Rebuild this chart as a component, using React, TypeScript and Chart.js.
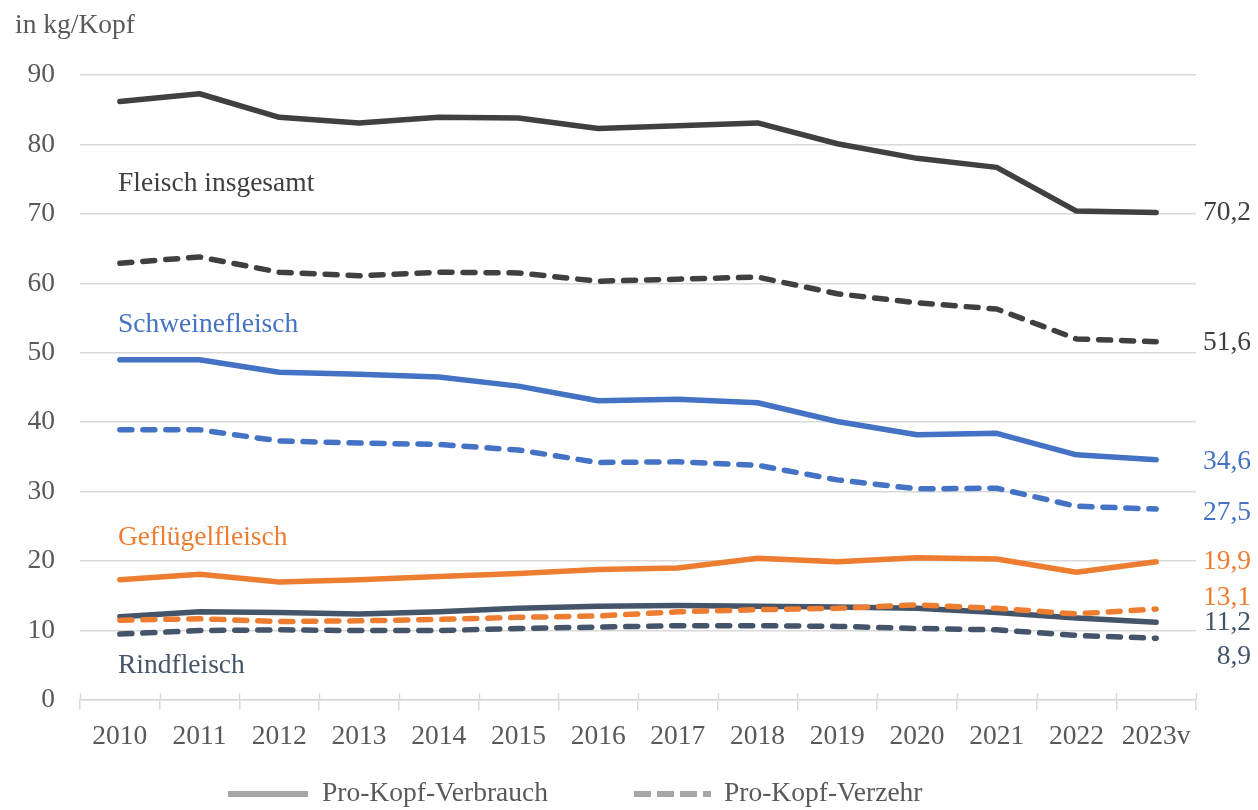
import React, { useEffect, useRef } from "react";
import { Chart, registerables } from "chart.js";

Chart.register(...registerables);

const years = ["2010", "2011", "2012", "2013", "2014", "2015", "2016", "2017", "2018", "2019", "2020", "2021", "2022", "2023v"];

const fleischVerbrauch = [86.2, 87.3, 83.9, 83.1, 83.9, 83.8, 82.3, 82.7, 83.1, 80.1, 78.0, 76.7, 70.4, 70.2];
const fleischVerzehr = [62.9, 63.8, 61.6, 61.1, 61.6, 61.5, 60.3, 60.6, 60.9, 58.5, 57.2, 56.3, 52.0, 51.6];
const schweinVerbrauch = [49.0, 49.0, 47.2, 46.9, 46.5, 45.2, 43.1, 43.3, 42.8, 40.1, 38.2, 38.4, 35.3, 34.6];
const schweinVerzehr = [38.9, 38.9, 37.3, 37.0, 36.8, 36.0, 34.2, 34.3, 33.8, 31.7, 30.4, 30.5, 27.9, 27.5];
const gefluegelVerbrauch = [17.3, 18.1, 17.0, 17.3, 17.8, 18.2, 18.8, 19.0, 20.4, 19.9, 20.5, 20.3, 18.4, 19.9];
const gefluegelVerzehr = [11.5, 11.7, 11.3, 11.4, 11.6, 11.9, 12.1, 12.7, 13.0, 13.2, 13.7, 13.2, 12.4, 13.1];
const rindVerbrauch = [12.0, 12.7, 12.6, 12.4, 12.7, 13.2, 13.5, 13.6, 13.5, 13.4, 13.2, 12.6, 11.8, 11.2];
const rindVerzehr = [9.5, 10.0, 10.1, 10.0, 10.0, 10.3, 10.5, 10.7, 10.7, 10.6, 10.3, 10.1, 9.3, 8.9];

const yTicks = [0, 10, 20, 30, 40, 50, 60, 70, 80, 90];

const seriesNames = ["Fleisch insgesamt", "Schweinefleisch", "Geflügelfleisch", "Rindfleisch"];
const legendNames = ["Pro-Kopf-Verbrauch", "Pro-Kopf-Verzehr"];
const unitLabel = "in kg/Kopf";

const FONT = "'Liberation Serif', 'Times New Roman', serif";
const FS = 27.5;
const TEXT = "#595959";
const C_TOTAL = "#404040";
const C_PORK = "#4472C4";
const C_POULTRY = "#ED7D31";
const C_BEEF = "#44546A";
const GRID = "#d9d9d9";
const DASH = [12, 11];

const series = [
  { data: fleischVerbrauch, color: C_TOTAL, dashed: false, endOffset: 0 },
  { data: fleischVerzehr, color: C_TOTAL, dashed: true, endOffset: 1 },
  { data: schweinVerbrauch, color: C_PORK, dashed: false, endOffset: 2 },
  { data: schweinVerzehr, color: C_PORK, dashed: true, endOffset: 4 },
  { data: gefluegelVerbrauch, color: C_POULTRY, dashed: false, endOffset: 0 },
  { data: gefluegelVerzehr, color: C_POULTRY, dashed: true, endOffset: -11 },
  { data: rindVerbrauch, color: C_BEEF, dashed: false, endOffset: 1 },
  { data: rindVerzehr, color: C_BEEF, dashed: true, endOffset: 19 },
];

const inlineLabels = [
  { text: seriesNames[0], at: 74.4, color: C_TOTAL },
  { text: seriesNames[1], at: 54.0, color: C_PORK },
  { text: seriesNames[2], at: 23.3, color: C_POULTRY },
  { text: seriesNames[3], at: 4.9, color: C_BEEF },
];

const overlayPlugin = {
  id: "overlay",
  afterDraw(chart: any) {
    const { ctx, scales } = chart;
    const x = scales.x;
    const y = scales.y;
    ctx.save();
    ctx.strokeStyle = GRID;
    ctx.lineWidth = 1.5;
    const y0 = y.getPixelForValue(0);
    for (let i = 0; i <= years.length; i++) {
      const px = Math.round(x.getPixelForValue(i - 0.5)) + 0.5;
      ctx.beginPath();
      ctx.moveTo(px, y0 - 7);
      ctx.lineTo(px, y0);
      ctx.stroke();
    }
    ctx.font = `${FS}px ${FONT}`;
    ctx.textBaseline = "middle";
    ctx.fillStyle = TEXT;
    ctx.textAlign = "left";
    ctx.fillText(unitLabel, 15, 26);
    for (const l of inlineLabels) {
      ctx.fillStyle = l.color;
      ctx.fillText(l.text, x.left + 38, y.getPixelForValue(l.at));
    }
    ctx.textAlign = "right";
    for (const s of series) {
      const v = s.data[s.data.length - 1];
      ctx.fillStyle = s.color;
      ctx.fillText(v.toFixed(1).replace(".", ","), 1251, y.getPixelForValue(v) + s.endOffset);
    }
    const ly = 794;
    ctx.textAlign = "left";
    ctx.strokeStyle = "#a6a6a6";
    ctx.lineWidth = 6;
    ctx.lineCap = "butt";
    ctx.setLineDash([]);
    ctx.beginPath();
    ctx.moveTo(228, ly);
    ctx.lineTo(308, ly);
    ctx.stroke();
    ctx.fillStyle = TEXT;
    ctx.fillText(legendNames[0], 322, ly);
    ctx.setLineDash([17, 6]);
    ctx.beginPath();
    ctx.moveTo(634, ly);
    ctx.lineTo(711, ly);
    ctx.stroke();
    ctx.setLineDash([]);
    ctx.fillText(legendNames[1], 724, ly);
    ctx.restore();
  },
};

export default function App() {
  const ref = useRef<HTMLCanvasElement | null>(null);
  useEffect(() => {
    if (!ref.current) return;
    const chart = new Chart(ref.current, {
      type: "line",
      data: {
        labels: years,
        datasets: series.map((s, i) => ({
          label: `s${i}`,
          data: s.data,
          borderColor: s.color,
          backgroundColor: s.color,
          borderWidth: 5.5,
          borderDash: s.dashed ? DASH : [],
          borderCapStyle: "round" as const,
          borderJoinStyle: "round" as const,
          pointRadius: 0,
          tension: 0,
          fill: false,
        })),
      },
      options: {
        animation: false,
        responsive: false,
        devicePixelRatio: 1,
        layout: { padding: { left: 0, right: 62, top: 75, bottom: 0 } },
        plugins: { legend: { display: false }, tooltip: { enabled: false } },
        scales: {
          x: {
            type: "category",
            offset: true,
            grid: { display: true, drawOnChartArea: false, drawTicks: true, tickLength: 10, offset: true, color: GRID, lineWidth: 1.5 },
            border: { display: true, color: GRID, width: 1.5 },
            ticks: { color: TEXT, font: { family: FONT, size: FS }, padding: 10, maxRotation: 0, autoSkip: false },
            afterFit: (scale: any) => { scale.height = 110; },
          },
          y: {
            min: 0,
            max: 90,
            afterBuildTicks: (scale: any) => { scale.ticks = yTicks.map((v) => ({ value: v })); },
            grid: { color: GRID, lineWidth: 1.5, drawTicks: false },
            border: { display: false },
            ticks: { color: TEXT, font: { family: FONT, size: FS }, padding: 25 },
            afterFit: (scale: any) => { scale.width = 80; },
          },
        },
      },
      plugins: [overlayPlugin],
    });
    return () => chart.destroy();
  }, []);
  return (
    <div style={{ position: "absolute", left: 0, top: 0, width: 1258, height: 810, background: "#fff" }}>
      <canvas ref={ref} width={1258} height={810} style={{ display: "block" }} />
    </div>
  );
}
